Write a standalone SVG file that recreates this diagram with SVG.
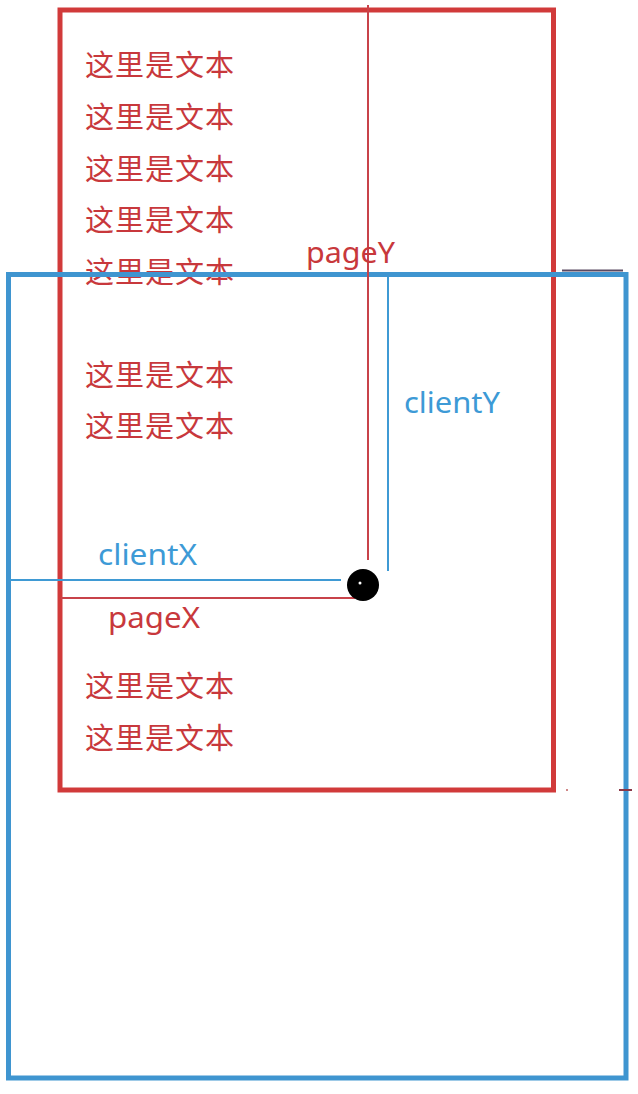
<svg xmlns="http://www.w3.org/2000/svg" width="638" height="1094" viewBox="0 0 638 1094">
<style>
.t{font-family:"Noto Sans CJK SC","Noto Sans",sans-serif;font-size:29px;fill:#c8383c;letter-spacing:1px}
.lr{font-family:"Noto Sans","Noto Sans CJK SC",sans-serif;font-size:29px;fill:#c8383c}
.lb{font-family:"Noto Sans","Noto Sans CJK SC",sans-serif;font-size:29px;fill:#3d9ad6}
.red{fill:none;stroke:#d13a3a}
.blue{fill:none;stroke:#3f95d0}
</style>
<rect width="638" height="1094" fill="#ffffff"/>
<g id="page">
<rect class="red" x="60" y="10" width="493.5" height="780" stroke-width="5"/>
</g>
<g id="texts">
<text class="t" x="85" y="76">这里是文本</text>
<text class="t" x="85" y="128">这里是文本</text>
<text class="t" x="85" y="180">这里是文本</text>
<text class="t" x="85" y="231">这里是文本</text>
<text class="t" x="85" y="283">这里是文本</text>
<text class="t" x="85" y="386">这里是文本</text>
<text class="t" x="85" y="437">这里是文本</text>
<text class="t" x="85" y="697">这里是文本</text>
<text class="t" x="85" y="749">这里是文本</text>
</g>
<g id="viewport">
<rect class="blue" x="8.5" y="274.5" width="617.5" height="803.5" stroke-width="5"/>
</g>
<g id="connectors">
<line x1="368" y1="5" x2="368" y2="560" stroke="#c8434a" stroke-width="2"/>
<line x1="388" y1="277" x2="388" y2="571" stroke="#3f9ad4" stroke-width="2"/>
<line x1="10" y1="580" x2="341" y2="580" stroke="#3f9ad4" stroke-width="2"/>
<line x1="61" y1="598" x2="355" y2="598" stroke="#c8434a" stroke-width="2"/>
<line x1="562" y1="270.5" x2="623" y2="270.5" stroke="#5a4a62" stroke-width="2"/>
<line x1="619" y1="790" x2="632" y2="790" stroke="#8a3848" stroke-width="2"/>
<circle cx="567" cy="790" r="1" fill="#c06060"/>
</g>
<g id="labels">
<text class="lr" x="306" y="263" textLength="89" lengthAdjust="spacingAndGlyphs">pageY</text>
<text class="lb" x="404" y="413" textLength="96" lengthAdjust="spacingAndGlyphs">clientY</text>
<text class="lb" x="98" y="565" textLength="99" lengthAdjust="spacingAndGlyphs">clientX</text>
<text class="lr" x="108" y="628" textLength="92" lengthAdjust="spacingAndGlyphs">pageX</text>
</g>
<g id="point">
<circle cx="363" cy="585" r="16" fill="#000000"/>
<circle cx="360" cy="583" r="1.5" fill="#ffffff"/>
</g>
</svg>
